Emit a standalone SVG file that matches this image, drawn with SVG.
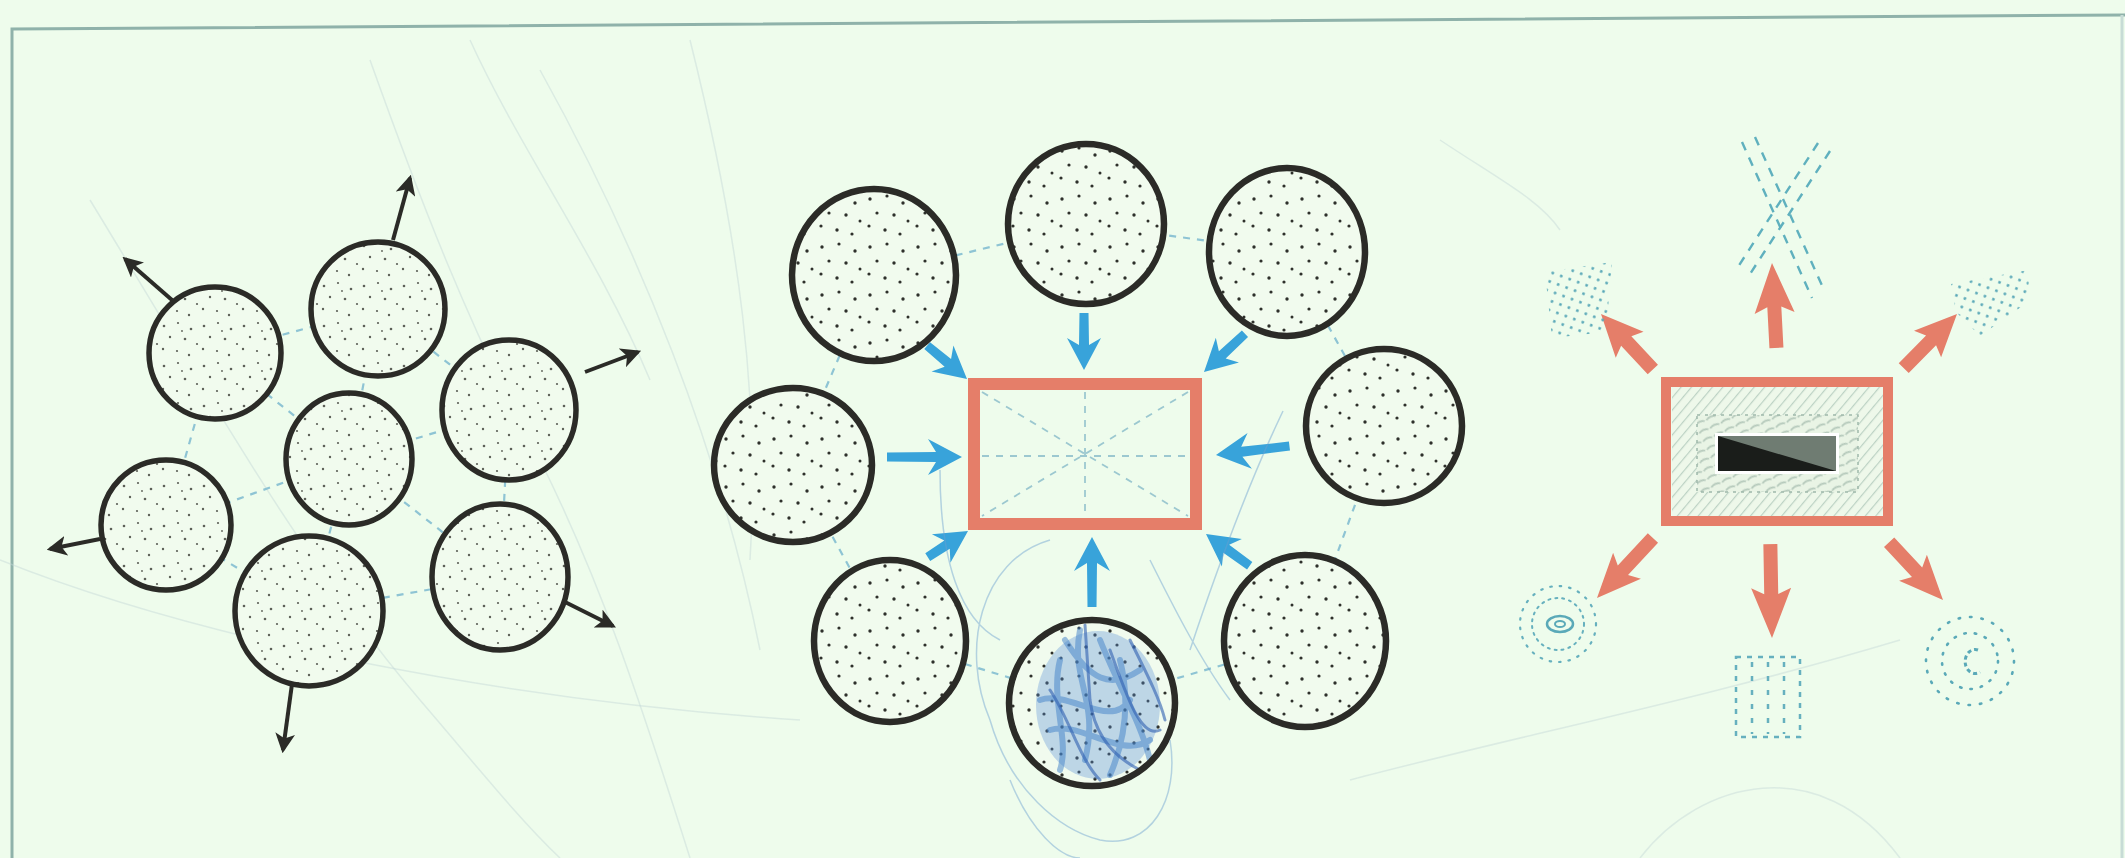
<svg xmlns="http://www.w3.org/2000/svg" width="2125" height="858" viewBox="0 0 2125 858">
<style>
.bg{fill:#eefcec}
.frame{fill:none;stroke:#8fb2aa;stroke-width:3}
.ringL{fill:url(#dotsL);stroke:#2b2b27;stroke-width:5.5}
.ringM{fill:url(#dotsM);stroke:#2b2b27;stroke-width:6.5}
.dash{fill:none;stroke:#8ec4d4;stroke-width:2.2;stroke-dasharray:7 7}
.blk{fill:none;stroke:#2b2b27;stroke-width:4;marker-end:url(#blackHead)}
.blue{fill:#38a3da}
.red{fill:#e57e69}
.tealS{fill:none;stroke:#5fb0be;stroke-width:2.4}
.pencil{fill:none;stroke:#c4d8d6;stroke-width:1.5;opacity:.45}
.scrib{fill:none;stroke:#3f80c8;stroke-width:6;opacity:.5;stroke-linecap:round}
</style>
<defs>
<pattern id="dotsL" width="40" height="40" patternUnits="userSpaceOnUse">
<rect width="40" height="40" fill="#f1fbee"/>
<g fill="#5d6058">
<circle cx="4" cy="6" r="1.3"/><circle cx="18" cy="3" r="1.1"/><circle cx="31" cy="9" r="1.3"/>
<circle cx="10" cy="17" r="1.2"/><circle cx="25" cy="19" r="1.3"/><circle cx="37" cy="24" r="1.1"/>
<circle cx="3" cy="29" r="1.2"/><circle cx="17" cy="31" r="1.1"/><circle cx="29" cy="35" r="1.2"/>
<circle cx="22" cy="11" r="0.9"/>
</g>
</pattern>
<pattern id="dotsM" width="48" height="48" patternUnits="userSpaceOnUse">
<rect width="48" height="48" fill="#f1fbee"/>
<g fill="#2e302b">
<circle cx="6" cy="7" r="1.7"/><circle cx="23" cy="4" r="1.6"/><circle cx="39" cy="11" r="1.7"/>
<circle cx="13" cy="21" r="1.6"/><circle cx="30" cy="23" r="1.7"/><circle cx="44" cy="29" r="1.5"/>
<circle cx="5" cy="34" r="1.6"/><circle cx="21" cy="38" r="1.7"/><circle cx="36" cy="42" r="1.6"/>
</g>
</pattern>
<pattern id="tealDots" width="9" height="9" patternUnits="userSpaceOnUse" patternTransform="rotate(20)">
<circle cx="4.5" cy="4.5" r="1.4" fill="#5aa8b8"/>
</pattern>
<pattern id="hatch" width="8" height="8" patternUnits="userSpaceOnUse" patternTransform="rotate(40)">
<rect width="8" height="8" fill="#eef8ea"/>
<line x1="0" y1="0" x2="0" y2="8" stroke="#bcd2c4" stroke-width="2.4"/>
</pattern>
<pattern id="rope" width="12" height="9" patternUnits="userSpaceOnUse" patternTransform="rotate(-25)">
<rect width="12" height="9" fill="#e9f4e5"/>
<path d="M1,4 Q6,1 11,4" stroke="#b6cabc" stroke-width="2" fill="none"/>
</pattern>
<marker id="blackHead" viewBox="0 0 12 12" refX="10" refY="6" markerWidth="5" markerHeight="5" orient="auto" markerUnits="strokeWidth">
<path d="M0,0 L12,6 L0,12 L3,6 Z" fill="#2b2b27"/>
</marker>
</defs>

<rect class="bg" width="2125" height="858"/>
<path class="frame" d="M12,858 L12,29 L2125,15"/>
<path class="frame" d="M2122,15 L2122,858" style="stroke:#c7dcd6"/>

<g id="pencil-lines">
<path class="pencil" d="M90,200 C200,380 300,560 420,700 C480,770 520,820 560,858"/>
<path class="pencil" d="M370,60 C420,200 470,330 540,460 C600,580 640,700 690,858"/>
<path class="pencil" d="M470,40 C520,150 600,260 650,380"/>
<path class="pencil" d="M540,70 C640,250 720,450 760,650"/>
<path class="pencil" d="M690,40 C740,240 760,400 750,560"/>
<path class="pencil" d="M0,560 C200,640 500,700 800,720"/>
<path class="pencil" d="M1900,640 C1700,700 1500,740 1350,780"/>
<path class="pencil" d="M1640,858 C1700,780 1820,750 1900,858"/>
<path class="pencil" d="M1440,140 C1500,180 1540,200 1560,230"/>
</g>

<g id="connectors">
<g id="dashed-left">
<line class="dash" x1="215" y1="353" x2="378" y2="309"/>
<line class="dash" x1="378" y1="309" x2="509" y2="410"/>
<line class="dash" x1="509" y1="410" x2="500" y2="577"/>
<line class="dash" x1="500" y1="577" x2="309" y2="611"/>
<line class="dash" x1="309" y1="611" x2="166" y2="525"/>
<line class="dash" x1="166" y1="525" x2="215" y2="353"/>
<line class="dash" x1="349" y1="459" x2="215" y2="353"/>
<line class="dash" x1="349" y1="459" x2="378" y2="309"/>
<line class="dash" x1="349" y1="459" x2="509" y2="410"/>
<line class="dash" x1="349" y1="459" x2="166" y2="525"/>
<line class="dash" x1="349" y1="459" x2="500" y2="577"/>
<line class="dash" x1="349" y1="459" x2="309" y2="611"/>
</g>
<g id="dashed-middle">
<line class="dash" x1="874" y1="275" x2="1086" y2="224"/>
<line class="dash" x1="1086" y1="224" x2="1287" y2="252"/>
<line class="dash" x1="1287" y1="252" x2="1384" y2="426"/>
<line class="dash" x1="1384" y1="426" x2="1305" y2="641"/>
<line class="dash" x1="1305" y1="641" x2="1092" y2="703"/>
<line class="dash" x1="1092" y1="703" x2="890" y2="641"/>
<line class="dash" x1="890" y1="641" x2="793" y2="465"/>
<line class="dash" x1="793" y1="465" x2="874" y2="275"/>
</g>
<g id="black-arrows">
<line class="blk" x1="172" y1="300" x2="125" y2="259"/>
<line class="blk" x1="393" y1="240" x2="410" y2="178"/>
<line class="blk" x1="585" y1="372" x2="638" y2="352"/>
<line class="blk" x1="100" y1="539" x2="50" y2="549"/>
<line class="blk" x1="292" y1="684" x2="283" y2="750"/>
<line class="blk" x1="565" y1="602" x2="613" y2="626"/>
</g>
<g id="blue-arrows">
<path class="blue" transform="translate(967,379) rotate(40)" d="M0,0 L-32,-17 L-25,-5 L-52,-4.5 L-52,4.5 L-25,5 L-32,17 Z"/>
<path class="blue" transform="translate(1084,370) rotate(90)" d="M0,0 L-32,-17 L-25,-5 L-57,-4.5 L-57,4.5 L-25,5 L-32,17 Z"/>
<path class="blue" transform="translate(1204,372) rotate(137)" d="M0,0 L-32,-17 L-25,-5 L-56,-4.5 L-56,4.5 L-25,5 L-32,17 Z"/>
<path class="blue" transform="translate(962,457) rotate(0)" d="M0,0 L-34,-18 L-26,-5 L-75,-4.5 L-75,4.5 L-26,5 L-34,18 Z"/>
<path class="blue" transform="translate(1216,455) rotate(173)" d="M0,0 L-34,-18 L-26,-5 L-74,-4.5 L-74,4.5 L-26,5 L-34,18 Z"/>
<path class="blue" transform="translate(968,531) rotate(-33)" d="M0,0 L-32,-17 L-25,-5 L-48,-4.5 L-48,4.5 L-25,5 L-32,17 Z"/>
<path class="blue" transform="translate(1092,537) rotate(-90)" d="M0,0 L-34,-18 L-26,-5 L-70,-4.5 L-70,4.5 L-26,5 L-34,18 Z"/>
<path class="blue" transform="translate(1206,534) rotate(-144)" d="M0,0 L-32,-17 L-25,-5 L-54,-4.5 L-54,4.5 L-25,5 L-32,17 Z"/>
</g>
<g id="red-arrows">
<path class="red" transform="translate(1772,263) rotate(-93)" d="M0,0 L-50,-20 L-44,-7 L-85,-7 L-85,7 L-44,7 L-50,20 Z"/>
<path class="red" transform="translate(1601,314) rotate(-133)" d="M0,0 L-42,-19 L-37,-7 L-76,-7 L-76,7 L-37,7 L-42,19 Z"/>
<path class="red" transform="translate(1957,314) rotate(-45.5)" d="M0,0 L-42,-19 L-37,-7 L-76,-7 L-76,7 L-37,7 L-42,19 Z"/>
<path class="red" transform="translate(1597,598) rotate(133)" d="M0,0 L-44,-19 L-38,-7 L-82,-7 L-82,7 L-38,7 L-44,19 Z"/>
<path class="red" transform="translate(1772,638) rotate(89)" d="M0,0 L-50,-20 L-44,-7 L-94,-7 L-94,7 L-44,7 L-50,20 Z"/>
<path class="red" transform="translate(1943,600) rotate(47)" d="M0,0 L-44,-19 L-38,-7 L-79,-7 L-79,7 L-38,7 L-44,19 Z"/>
</g>
</g>

<g id="left-cluster">
<g id="L1"><ellipse class="ringL" cx="215" cy="353" rx="66" ry="66"/></g>
<g id="L2"><ellipse class="ringL" cx="378" cy="309" rx="67" ry="67"/></g>
<g id="L3"><ellipse class="ringL" cx="509" cy="410" rx="67" ry="70"/></g>
<g id="L4"><ellipse class="ringL" cx="349" cy="459" rx="63" ry="66"/></g>
<g id="L5"><ellipse class="ringL" cx="166" cy="525" rx="65" ry="65"/></g>
<g id="L6"><ellipse class="ringL" cx="309" cy="611" rx="74" ry="75"/></g>
<g id="L7"><ellipse class="ringL" cx="500" cy="577" rx="68" ry="73"/></g>
</g>

<g id="middle-cluster">
<g id="M-rect">
<rect x="974" y="384" width="222" height="140" fill="none" stroke="#e57e69" stroke-width="12"/>
<g class="dash" style="stroke:#9cc8d0;stroke-width:1.8">
<line x1="982" y1="456" x2="1188" y2="456"/>
<line x1="1085" y1="392" x2="1085" y2="516"/>
<line x1="982" y1="392" x2="1188" y2="516"/>
<line x1="1188" y1="392" x2="982" y2="516"/>
</g>
</g>
<g id="MA"><ellipse class="ringM" cx="874" cy="275" rx="82" ry="86"/></g>
<g id="MB"><ellipse class="ringM" cx="1086" cy="224" rx="78" ry="80"/></g>
<g id="MC"><ellipse class="ringM" cx="1287" cy="252" rx="78" ry="84"/></g>
<g id="MD"><ellipse class="ringM" cx="793" cy="465" rx="79" ry="77"/></g>
<g id="ME"><ellipse class="ringM" cx="1384" cy="426" rx="78" ry="77"/></g>
<g id="MF"><ellipse class="ringM" cx="890" cy="641" rx="76" ry="81"/></g>
<g id="MG">
<ellipse cx="1092" cy="703" rx="83" ry="83" fill="url(#dotsM)"/>
<ellipse cx="1098" cy="705" rx="62" ry="74" fill="#5b93d6" opacity=".35"/>
<path class="scrib" d="M1080,630 C1070,680 1100,700 1085,760 M1060,660 C1050,700 1070,740 1060,770 M1100,640 C1120,690 1140,720 1150,760 M1040,700 C1070,690 1110,730 1130,700 M1120,660 C1130,700 1125,740 1110,775 M1050,730 C1080,720 1120,760 1150,740 M1065,640 C1090,680 1110,690 1140,670"/>
<path class="scrib" style="stroke:#2f5fb0;stroke-width:3;opacity:.6" d="M1085,625 L1090,700 C1095,740 1120,760 1140,770 M1110,650 C1125,690 1140,740 1160,730 M1050,690 C1070,720 1080,760 1100,780 M1130,640 C1150,680 1160,700 1165,720"/>
<ellipse cx="1092" cy="703" rx="83" ry="83" fill="none" stroke="#2b2b27" stroke-width="6.5"/>
<path class="pencil" style="stroke:#6a9fd0;opacity:.45" d="M1050,540 C980,560 960,650 990,720 C1010,790 1060,830 1100,840 C1150,850 1180,800 1170,740 M1010,780 C1030,830 1060,858 1080,858 M1283,411 C1250,480 1220,560 1190,650 M940,470 C940,560 960,620 1000,640 M1150,560 C1170,600 1200,660 1230,700"/>
</g>
<g id="MH"><ellipse class="ringM" cx="1305" cy="641" rx="81" ry="86"/></g>
</g>

<g id="right-cluster">
<g id="R-box">
<rect x="1672" y="387" width="211" height="130" fill="url(#hatch)"/>
<rect x="1697" y="415" width="161" height="77" fill="url(#rope)" stroke="#9fb8aa" stroke-width="1.5" stroke-dasharray="3 5"/>
<rect x="1715" y="433" width="124" height="41" fill="#ffffff"/>
<rect x="1718" y="436" width="118" height="35" fill="#6f7c72"/>
<polygon points="1718,436 1836,471 1718,471" fill="#1a1d1a"/>
<rect x="1666" y="382" width="222" height="139" fill="none" stroke="#e57e69" stroke-width="10"/>
</g>
<g id="R-top">
<line class="tealS" style="stroke-dasharray:9 8" x1="1742" y1="142" x2="1812" y2="298"/>
<line class="tealS" style="stroke-dasharray:9 8" x1="1755" y1="137" x2="1825" y2="292"/>
<line class="tealS" style="stroke-dasharray:9 8" x1="1818" y1="143" x2="1736" y2="270"/>
<line class="tealS" style="stroke-dasharray:9 8" x1="1830" y1="151" x2="1750" y2="274"/>
</g>
<g id="R-upleft">
<polygon points="1545,272 1612,262 1606,332 1552,338" fill="url(#tealDots)"/>
</g>
<g id="R-upright">
<polygon points="1951,284 2029,270 2028,302 1980,336 1956,312" fill="url(#tealDots)"/>
</g>
<g id="R-downleft">
<circle cx="1558" cy="624" r="38" fill="none" stroke="#66b0be" stroke-width="2.2" stroke-dasharray="1.5 8" stroke-linecap="round"/>
<circle cx="1558" cy="624" r="26" fill="none" stroke="#66b0be" stroke-width="2" stroke-dasharray="2 5" stroke-linecap="round"/>
<ellipse cx="1560" cy="624" rx="13" ry="8" fill="none" stroke="#5aa9b8" stroke-width="2.5"/>
<ellipse cx="1560" cy="624" rx="5" ry="3" fill="none" stroke="#5aa9b8" stroke-width="2"/>
</g>
<g id="R-down">
<rect x="1736" y="657" width="64" height="80" fill="none" stroke="#66b0be" stroke-width="2.5" stroke-dasharray="5 6"/>
<g stroke="#66b0be" stroke-width="2.5" stroke-dasharray="5 9">
<line x1="1752" y1="662" x2="1752" y2="734"/>
<line x1="1768" y1="662" x2="1768" y2="734"/>
<line x1="1784" y1="662" x2="1784" y2="734"/>
</g>
</g>
<g id="R-downright">
<circle cx="1970" cy="661" r="44" fill="none" stroke="#5aa9b8" stroke-width="2.6" stroke-dasharray="1.5 10" stroke-linecap="round"/>
<circle cx="1970" cy="661" r="28" fill="none" stroke="#5aa9b8" stroke-width="2.6" stroke-dasharray="1.5 9" stroke-linecap="round"/>
<path d="M1978,650 A10,12 0 1 0 1980,672" fill="none" stroke="#5aa9b8" stroke-width="3" stroke-dasharray="4 3"/>
</g>
</g>
</svg>
